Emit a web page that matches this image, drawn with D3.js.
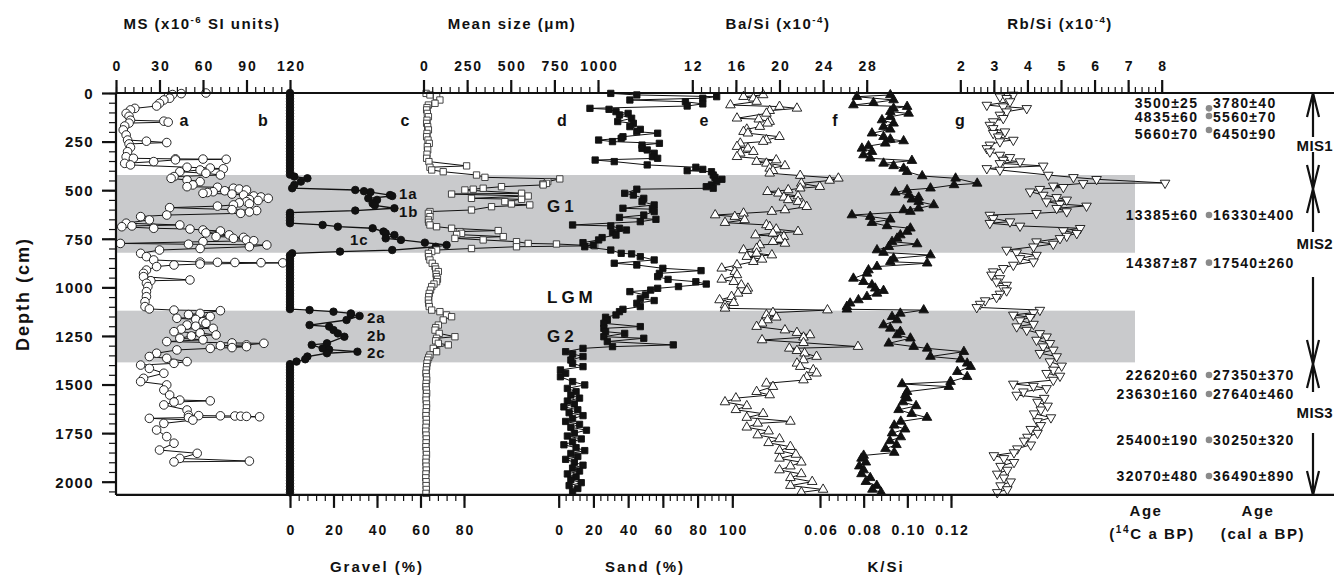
<!DOCTYPE html>
<html><head><meta charset="utf-8">
<script src="https://cdn.jsdelivr.net/npm/d3@7"></script>
<style>
body{margin:0;background:#fff}
svg{display:block;font-family:"Liberation Sans",Arial,sans-serif;font-weight:bold}
</style></head><body>
<svg id="c" width="1334" height="575"></svg>
<script>
// ---------------- DATA ([depth cm, value]) ----------------
const msData = [[0,62],[3,45],[8,39],[18,36],[27,37],[36,33],[53,30],[67,28],[79,13],[87,10],[105,7],[120,9],[140,10],[145,33],[150,36],[155,9],[170,6],[190,5],[216,7],[242,8],[248,21],[255,35],[262,9],[280,10],[302,8],[328,7],[336,12],[339,41],[340,60],[341,76],[344,41],[353,26],[362,6],[370,10],[382,49],[386,65],[390,74],[396,58],[405,44],[413,62],[422,72],[430,40],[439,38],[448,49],[456,58],[473,53],[482,49],[485,70],[490,81],[494,85],[499,90],[503,75],[508,67],[512,63],[516,60],[520,80],[525,88],[530,95],[535,100],[542,105],[548,92],[553,98],[559,90],[565,85],[570,92],[576,81],[582,70],[590,37],[600,80],[605,97],[612,92],[619,86],[628,35],[636,17],[653,23],[670,7],[679,44],[684,11],[688,4],[696,26],[700,51],[705,60],[710,72],[720,62],[730,78],[739,69],[743,88],[748,81],[756,90],[760,95],[765,60],[774,3],[778,50],[782,104],[791,92],[800,58],[808,30],[825,17],[842,21],[859,26],[870,58],[871,70],[872,82],[873,100],[874,115],[880,58],[885,40],[893,28],[911,21],[928,19],[945,19],[962,51],[966,24],[979,21],[996,22],[1022,21],[1048,21],[1074,20],[1099,20],[1111,23],[1117,40],[1120,72],[1134,58],[1140,50],[1150,65],[1159,42],[1165,55],[1177,60],[1185,62],[1194,49],[1200,55],[1211,67],[1215,45],[1228,40],[1235,58],[1245,69],[1250,52],[1262,44],[1270,60],[1279,35],[1286,80],[1288,102],[1296,90],[1300,72],[1305,90],[1310,80],[1314,65],[1322,42],[1339,28],[1356,23],[1365,35],[1382,49],[1391,40],[1400,17],[1417,23],[1442,33],[1468,19],[1485,17],[1502,35],[1528,33],[1554,37],[1580,44],[1584,65],[1590,40],[1605,33],[1631,49],[1658,50],[1660,57],[1661,72],[1662,82],[1663,86],[1664,90],[1666,99],[1670,50],[1674,23],[1683,53],[1700,33],[1734,28],[1768,35],[1802,40],[1837,30],[1854,56],[1880,44],[1894,92],[1898,40]];

const gravelData = [[0,0],[15,0],[30,0],[45,0],[60,0],[75,0],[90,0],[105,0],[120,0],[135,0],[150,0],[165,0],[180,0],[195,0],[210,0],[225,0],[240,0],[255,0],[270,0],[285,0],[300,0],[315,0],[330,0],[345,0],[360,0],[375,0],[390,0],[405,0],[420,0],[430,2],[439,8],[456,5],[473,2],[490,1],[499,30],[505,34],[510,37],[525,46],[530,47],[542,36],[550,40],[568,38],[578,39],[593,48],[605,30],[616,0],[625,0],[640,0],[655,0],[670,0],[679,15],[688,22],[696,38],[713,43],[722,44],[731,48],[748,44],[756,51],[770,62],[782,72],[791,67],[808,47],[816,23],[825,1],[835,0],[850,0],[865,0],[880,0],[895,0],[910,0],[925,0],[940,0],[955,0],[970,0],[985,0],[1000,0],[1015,0],[1030,0],[1045,0],[1060,0],[1075,0],[1090,0],[1105,0],[1112,0],[1117,9],[1125,20],[1134,28],[1140,28],[1147,32],[1168,26],[1194,9],[1202,18],[1220,20],[1237,22],[1254,25],[1288,17],[1296,10],[1314,15],[1320,18],[1331,31],[1339,17],[1356,8],[1370,7],[1382,3],[1395,0],[1410,0],[1425,0],[1440,0],[1455,0],[1470,0],[1485,0],[1500,0],[1515,0],[1530,0],[1545,0],[1560,0],[1575,0],[1590,0],[1605,0],[1620,0],[1635,0],[1650,0],[1665,0],[1680,0],[1695,0],[1710,0],[1725,0],[1740,0],[1755,0],[1770,0],[1785,0],[1800,0],[1815,0],[1830,0],[1845,0],[1860,0],[1875,0],[1890,0],[1905,0],[1920,0],[1935,0],[1950,0],[1965,0],[1980,0],[1995,0],[2010,0],[2025,0],[2040,0],[2055,0]];

const meanSizeData = [[2,15],[10,37],[19,75],[36,94],[53,66],[62,28],[75,20],[87,18],[105,22],[122,28],[140,20],[156,18],[173,24],[190,28],[208,20],[225,18],[242,26],[259,33],[276,22],[293,24],[315,20],[336,18],[353,31],[375,247],[382,37],[396,47],[405,113],[422,304],[434,352],[442,781],[456,712],[465,705],[468,684],[473,686],[482,447],[490,342],[495,285],[499,237],[516,562],[520,161],[530,600],[542,275],[547,562],[559,466],[571,504],[576,609],[585,390],[602,275],[610,37],[619,28],[636,37],[653,28],[665,30],[679,37],[688,75],[696,161],[708,428],[713,209],[722,218],[728,190],[739,457],[748,180],[756,342],[765,533],[774,600],[777,762],[786,981],[791,533],[800,275],[808,75],[816,47],[825,28],[842,30],[859,37],[876,50],[893,66],[906,70],[919,85],[932,72],[945,75],[958,80],[971,75],[983,60],[996,47],[1014,40],[1031,33],[1048,30],[1065,28],[1082,30],[1099,33],[1117,47],[1125,94],[1142,132],[1151,161],[1168,113],[1194,85],[1207,70],[1220,66],[1237,90],[1254,180],[1262,75],[1275,70],[1288,85],[1296,142],[1314,56],[1331,75],[1348,37],[1360,30],[1374,24],[1390,20],[1408,18],[1425,16],[1442,14],[1460,17],[1477,18],[1494,15],[1511,14],[1528,16],[1545,18],[1562,15],[1580,15],[1600,17],[1620,17],[1640,15],[1660,14],[1680,16],[1700,16],[1720,14],[1740,13],[1760,15],[1780,16],[1800,15],[1820,14],[1840,16],[1860,17],[1880,15],[1900,14],[1920,15],[1940,16],[1960,14],[1980,13],[2000,15],[2020,15],[2040,16],[2060,14]];

const sandData = [[2,30],[10,45],[19,91],[27,83],[36,41],[45,73],[56,83],[67,74],[79,18],[84,29],[96,33],[105,40],[113,35],[130,42],[147,34],[156,43],[173,41],[187,47],[199,45],[207,57],[225,37],[233,36],[242,23],[250,31],[259,58],[268,48],[285,48],[293,51],[310,55],[328,54],[336,57],[345,21],[353,32],[370,51],[382,79],[393,83],[400,74],[405,88],[422,89],[434,90],[444,94],[456,91],[473,88],[482,85],[490,89],[495,45],[516,38],[525,43],[542,49],[559,48],[576,55],[593,37],[598,54],[610,55],[628,49],[640,35],[650,56],[662,47],[679,8],[684,30],[696,35],[705,39],[718,31],[731,33],[744,25],[756,23],[770,14],[782,20],[791,15],[808,30],[825,36],[828,42],[842,47],[859,55],[876,32],[885,45],[902,60],[914,82],[928,58],[945,57],[959,63],[971,79],[983,85],[996,69],[1005,57],[1014,53],[1022,41],[1039,50],[1057,47],[1068,55],[1082,45],[1099,47],[1113,37],[1125,35],[1142,33],[1154,27],[1168,28],[1185,26],[1202,47],[1211,26],[1228,27],[1237,38],[1254,26],[1262,49],[1279,28],[1296,66],[1305,31],[1314,14],[1331,4],[1343,8],[1356,14],[1374,7],[1391,8],[1408,14],[1425,1],[1442,4],[1460,1],[1485,8],[1502,15],[1520,5],[1537,10],[1554,7],[1570,12],[1585,5],[1600,9],[1615,3],[1630,11],[1645,6],[1660,14],[1675,8],[1690,4],[1705,12],[1720,7],[1735,16],[1750,9],[1765,5],[1780,13],[1795,8],[1810,3],[1825,10],[1840,15],[1855,7],[1870,11],[1885,4],[1900,9],[1915,14],[1930,8],[1945,12],[1960,5],[1975,10],[1990,7],[2005,13],[2020,6],[2035,11],[2050,8]];

const baSiData = [[10,18.5],[19,16.7],[27,17.6],[44,17.9],[62,15.5],[70,20.0],[79,21.6],[91,19.1],[105,18.8],[130,16.1],[135,18.1],[147,19.1],[156,18.9],[173,18.2],[187,17.0],[199,16.7],[207,17.1],[225,20.0],[242,18.8],[250,18.5],[259,16.4],[276,16.1],[285,17.1],[302,17.6],[310,16.4],[328,16.1],[345,19.7],[353,17.9],[362,18.8],[375,20.5],[388,19.1],[400,19.4],[413,19.1],[425,21.9],[439,25.4],[450,24.6],[465,22.0],[482,23.7],[490,21.9],[499,20.8],[508,18.9],[516,19.9],[530,21.7],[537,20.4],[550,20.8],[559,21.7],[576,22.2],[585,22.5],[602,20.5],[610,19.3],[619,16.7],[628,14.1],[636,15.9],[653,16.8],[667,15.0],[679,18.8],[688,19.1],[701,19.7],[713,21.7],[722,19.4],[731,17.8],[739,20.4],[753,20.0],[765,19.4],[774,20.5],[782,18.2],[800,17.9],[808,16.7],[825,17.9],[834,19.3],[842,17.0],[856,18.4],[868,17.6],[885,16.1],[902,14.7],[919,15.9],[936,16.1],[959,14.7],[971,15.8],[988,16.5],[1005,17.1],[1017,17.0],[1031,16.2],[1048,15.6],[1065,14.5],[1079,15.8],[1091,15.0],[1108,15.0],[1117,24.4],[1130,19.4],[1142,18.8],[1154,19.7],[1168,18.9],[1185,18.4],[1202,17.9],[1220,20.5],[1233,21.6],[1245,22.8],[1257,22.2],[1271,18.4],[1285,22.2],[1305,27.2],[1314,20.9],[1326,21.6],[1339,22.3],[1356,23.4],[1374,22.2],[1391,21.6],[1408,21.9],[1425,23.1],[1442,23.4],[1460,22.5],[1477,22.2],[1494,18.8],[1511,19.4],[1537,17.9],[1554,19.1],[1570,16.0],[1590,15.0],[1610,17.0],[1630,16.0],[1650,18.5],[1670,17.0],[1690,21.0],[1700,18.0],[1720,17.0],[1740,19.0],[1760,18.0],[1780,20.0],[1800,19.0],[1820,21.0],[1840,20.0],[1860,21.5],[1880,20.0],[1900,22.0],[1920,21.0],[1940,20.0],[1960,22.0],[1980,21.0],[2000,23.0],[2020,21.0],[2040,24.0],[2055,22.0]];

const kSiData = [[10,0.0922],[19,0.0769],[36,0.0937],[50,0.0845],[62,0.0753],[70,0.0999],[79,0.0937],[96,0.0922],[105,0.1006],[122,0.0922],[139,0.0884],[156,0.0937],[173,0.0891],[187,0.0922],[207,0.0838],[225,0.0891],[238,0.0922],[247,0.0983],[259,0.0899],[273,0.0822],[285,0.0792],[302,0.0838],[319,0.0799],[336,0.0830],[348,0.1021],[362,0.0891],[375,0.0937],[388,0.0983],[405,0.0999],[427,0.1068],[439,0.1221],[465,0.1320],[473,0.1214],[490,0.1106],[499,0.0999],[511,0.0945],[525,0.1006],[537,0.1052],[547,0.1021],[559,0.1052],[576,0.1121],[593,0.1052],[602,0.0983],[610,0.1014],[628,0.0746],[636,0.0830],[650,0.0922],[667,0.0838],[684,0.0907],[696,0.1014],[713,0.0999],[731,0.0968],[748,0.0953],[765,0.0930],[777,0.1045],[791,0.0915],[808,0.0861],[821,0.0891],[834,0.1106],[851,0.0937],[868,0.0922],[876,0.1091],[893,0.0861],[911,0.0822],[928,0.0815],[954,0.0753],[971,0.0799],[988,0.0838],[1005,0.0853],[1017,0.0891],[1031,0.0861],[1048,0.0815],[1065,0.0776],[1082,0.0738],[1099,0.0723],[1113,0.0723],[1117,0.1075],[1134,0.0968],[1151,0.0930],[1168,0.0953],[1194,0.0891],[1211,0.0922],[1228,0.0968],[1245,0.0953],[1262,0.1014],[1288,0.0915],[1305,0.1029],[1314,0.1091],[1331,0.1259],[1356,0.1106],[1370,0.1244],[1391,0.1274],[1408,0.1290],[1434,0.1229],[1460,0.1274],[1485,0.1198],[1497,0.0976],[1511,0.1190],[1537,0.0999],[1554,0.0991],[1570,0.1000],[1590,0.0980],[1610,0.1040],[1630,0.0960],[1650,0.1020],[1670,0.1090],[1690,0.0970],[1710,0.0940],[1730,0.0990],[1750,0.0930],[1770,0.0970],[1790,0.0920],[1810,0.0950],[1830,0.0900],[1850,0.0940],[1865,0.0800],[1880,0.0790],[1900,0.0810],[1920,0.0780],[1940,0.0800],[1960,0.0790],[1980,0.0830],[2000,0.0810],[2020,0.0860],[2040,0.0840],[2055,0.0880]];

const rbSiData = [[10,3.58],[19,3.18],[27,3.38],[44,3.48],[62,2.79],[70,3.28],[79,3.98],[96,3.38],[113,3.18],[130,3.28],[147,2.98],[165,2.88],[182,2.98],[199,3.33],[207,2.98],[225,3.13],[242,3.58],[250,3.18],[267,2.88],[285,2.79],[302,2.88],[319,3.18],[331,3.48],[345,3.28],[353,3.78],[362,3.18],[375,4.47],[388,2.79],[396,3.18],[422,4.62],[434,5.37],[444,6.06],[463,8.10],[465,5.66],[478,4.77],[485,5.07],[495,4.37],[508,4.08],[525,4.47],[537,4.87],[550,5.17],[559,4.57],[571,4.97],[581,5.76],[593,4.87],[610,5.17],[619,4.27],[628,2.88],[645,2.98],[662,3.48],[670,2.88],[684,3.78],[696,5.57],[708,5.07],[722,5.47],[736,5.17],[748,4.97],[765,4.27],[777,4.77],[791,4.18],[808,3.38],[821,3.68],[834,4.27],[851,3.78],[868,4.18],[885,3.58],[902,3.28],[919,2.98],[936,2.93],[954,3.18],[971,3.08],[988,3.38],[1005,3.28],[1017,3.38],[1034,3.18],[1051,3.08],[1068,2.74],[1086,2.59],[1103,2.49],[1117,4.37],[1130,4.18],[1142,3.58],[1154,4.08],[1171,3.78],[1189,4.18],[1202,3.68],[1220,3.98],[1237,4.37],[1254,4.57],[1271,4.27],[1288,4.67],[1305,4.47],[1322,4.77],[1339,4.37],[1356,4.87],[1382,4.67],[1404,5.02],[1425,4.77],[1442,4.57],[1456,4.97],[1477,4.77],[1497,3.58],[1508,4.18],[1520,4.57],[1537,3.88],[1554,3.68],[1570,4.50],[1590,4.30],[1610,4.60],[1630,4.40],[1650,4.20],[1670,4.70],[1690,4.30],[1710,4.40],[1730,4.10],[1750,4.30],[1770,4.00],[1790,3.90],[1810,4.10],[1830,3.70],[1850,3.60],[1865,3.00],[1880,3.30],[1900,3.60],[1920,3.20],[1940,3.40],[1960,3.10],[1980,3.30],[2000,3.50],[2020,3.20],[2040,3.40],[2055,3.10]];

// shaded intervals (depth cm)
const bandDepths = [[422,822],[1120,1386]];

// tick labels
const depthTicks = [0,250,500,750,1000,1250,1500,1750,2000];
const msTicks = [0,30,60,90,120];
const meanTicks = [0,250,500,750,1000];
const baTicks = [12,16,20,24,28];
const rbTicks = [2,3,4,5,6,7,8];
const gravelTicks = [0,20,40,60,80];
const sandTicks = [0,20,40,60,80,100];
const kTicks = [0.06,0.08,0.10,0.12];

// ages
const ageLabelDepth = [50,122,211,626,873,1451,1549,1785,1971];
const ageDotDepth   = [79,118,190,628,873,1451,1549,1785,1971];
const c14Ages = ["3500±25","4835±60","5660±70","13385±60","14387±87","22620±60","23630±160","25400±190","32070±480"];
const calAges = ["3780±40","5560±70","6450±90","16330±400","17540±260","27350±370","27640±460","30250±320","36490±890"];

// marine isotope stages
const misNames = ["MIS1","MIS2","MIS3"];
const misBounds = [0,494,1394,2068];
const misLabelDepth = [268,772,1640];

// ---------------- CHART ----------------
const svg = d3.select("#c");
const y = d3.scaleLinear().domain([0,2000]).range([93,481.7]);
const DMAX = 2068;
const xMS = d3.scaleLinear().domain([0,120]).range([116,290]);
const xGravel = d3.scaleLinear().domain([0,80]).range([290,464]);
const xMean = d3.scaleLinear().domain([0,1000]).range([423.5,598]);
const xSand = d3.scaleLinear().domain([0,100]).range([558.7,732.3]);
const xBa = d3.scaleLinear().domain([12,28]).range([692.3,866.7]);
const xK = d3.scaleLinear().domain([0.06,0.12]).range([820,951]);
const xRb = d3.scaleLinear().domain([2,8]).range([960.3,1161.7]);

const yTop = y(0), yBot = y(DMAX);

// gray bands
svg.append("g").selectAll("rect").data(bandDepths).join("rect")
  .attr("x",116).attr("width",1135-116)
  .attr("y",d=>y(d[0])).attr("height",d=>y(d[1])-y(d[0]))
  .attr("fill","#c9cacc");

// series
function series(data, xs, sym, size, fill, stroke, rot, lw){
  const g = svg.append("g");
  g.append("path").datum(data).attr("fill","none").attr("stroke","#111").attr("stroke-width",lw||1)
    .attr("d", d3.line().x(d=>xs(d[1])).y(d=>y(d[0])));
  g.selectAll("path.m").data(data).join("path").attr("class","m")
    .attr("transform", d=>`translate(${xs(d[1])},${y(d[0])})${rot?" rotate(180)":""}`)
    .attr("d", d3.symbol(sym,size)).attr("fill",fill).attr("stroke",stroke).attr("stroke-width",0.9);
}
series(msData, xMS, d3.symbolCircle, 58, "#fff", "#111");
series(gravelData, xGravel, d3.symbolCircle, 44, "#111", "#111", false, 1.3);
series(meanSizeData, xMean, d3.symbolSquare, 40, "#fff", "#333");
series(sandData, xSand, d3.symbolSquare, 40, "#111", "#111");
series(baSiData, xBa, d3.symbolTriangle, 40, "#fff", "#111");
series(kSiData, xK, d3.symbolTriangle, 40, "#111", "#111");
series(rbSiData, xRb, d3.symbolTriangle, 40, "#fff", "#111", true);

// frame lines
const frame = svg.append("g").attr("stroke","#111").attr("stroke-width",2.2);
frame.append("line").attr("x1",116).attr("x2",1334).attr("y1",yTop).attr("y2",yTop);
frame.append("line").attr("x1",116).attr("x2",1334).attr("y1",yBot).attr("y2",yBot);
frame.append("line").attr("x1",116).attr("x2",116).attr("y1",yTop).attr("y2",yBot);

const LS = 1.8;
function styleAxis(g, major){
  g.select(".domain").remove();
  g.selectAll(".tick line").attr("stroke","#111").attr("stroke-width", major?2.2:1.2);
  g.selectAll("text").attr("font-size",14).attr("font-weight","bold").attr("fill","#111")
    .attr("font-family","'Liberation Sans',Arial,sans-serif").style("letter-spacing",LS+"px");
}
function topAxis(scale, majors, step){
  const minors = d3.range(scale.domain()[0], scale.domain()[1]+step/2, step);
  const gm = svg.append("g").attr("transform",`translate(0,${yTop})`)
    .call(d3.axisTop(scale).tickValues(minors).tickSize(6).tickFormat(""));
  styleAxis(gm,false);
  const g = svg.append("g").attr("transform",`translate(0,${yTop})`)
    .call(d3.axisTop(scale).tickValues(majors).tickSize(13).tickFormat(d=>d));
  styleAxis(g,true);
  g.selectAll("text").attr("y",-22).attr("dy",0).attr("dx",LS/2);
}
function bottomAxis(scale, majors, step, fmt){
  const minors = d3.range(scale.domain()[0], scale.domain()[1]+step/2, step);
  const gm = svg.append("g").attr("transform",`translate(0,${yBot})`)
    .call(d3.axisBottom(scale).tickValues(minors).tickSize(6).tickFormat(""));
  styleAxis(gm,false);
  const g = svg.append("g").attr("transform",`translate(0,${yBot})`)
    .call(d3.axisBottom(scale).tickValues(majors).tickSize(13).tickFormat(fmt||(d=>d)));
  styleAxis(g,true);
  g.selectAll("text").attr("y",40).attr("dy",0).attr("dx",LS/2);
}
topAxis(xMS, msTicks, 6);
topAxis(xMean, meanTicks, 50);
topAxis(xBa, baTicks, 0.8);
topAxis(xRb, rbTicks, 0.2);
bottomAxis(xGravel, gravelTicks, 4);
bottomAxis(xSand, sandTicks, 4);
bottomAxis(xK, kTicks, 0.004, d3.format(".2f"));

// left depth axis
{
  const gm = svg.append("g").attr("transform","translate(116,0)")
    .call(d3.axisLeft(y).tickValues(d3.range(0,2051,50)).tickSize(7).tickFormat(""));
  styleAxis(gm,false);
  const g = svg.append("g").attr("transform","translate(116,0)")
    .call(d3.axisLeft(y).tickValues(depthTicks).tickSize(14).tickFormat(d=>d));
  styleAxis(g,true);
  g.selectAll("text").attr("x",-24+LS).attr("dy","0.36em").attr("font-size",15).style("letter-spacing","1.3px");
}

// text helper
function txt(x, yy, s, size, anchor, ls){
  return svg.append("text").attr("x",x).attr("y",yy).attr("font-size",size)
    .attr("text-anchor",anchor||"middle").attr("fill","#111").style("letter-spacing",(ls||0)+"px").text(s);
}
function supTitle(x, yy, pre, sup, post, size, ls){
  const t = svg.append("text").attr("x",x).attr("y",yy).attr("font-size",size)
    .attr("text-anchor","middle").attr("fill","#111").style("letter-spacing",ls+"px");
  t.append("tspan").text(pre);
  t.append("tspan").attr("dy",-6).attr("font-size",size*0.65).text(sup);
  t.append("tspan").attr("dy",6).text(post);
  return t;
}
// titles
supTitle(202, 29, "MS (x10", "-6", " SI units)", 15, 1.5);
txt(512, 29, "Mean size (μm)", 15, "middle", 1.5);
supTitle(778, 29, "Ba/Si (x10", "-4", ")", 15, 1.5);
supTitle(1060, 29, "Rb/Si (x10", "-4", ")", 15, 1.5);
txt(377, 572, "Gravel (%)", 15, "middle", 2);
txt(645, 572, "Sand (%)", 15, "middle", 2);
txt(886, 572, "K/Si", 15, "middle", 2);
svg.append("text").attr("transform","translate(29,294) rotate(-90)").attr("text-anchor","middle")
  .attr("font-size",18).attr("fill","#111").style("letter-spacing","2px").text("Depth (cm)");

// panel letters
[["a",184],["b",263],["c",405],["d",562],["e",704],["f",835],["g",960]].forEach(p=>txt(p[1],126,p[0],16));
[["1a",399,199],["1b",399,217],["1c",350,245],["2a",367,323],["2b",367,341],["2c",367,358]]
  .forEach(p=>txt(p[1],p[2],p[0],15,"start",1));
txt(547,212,"G1",17,"start",4);
txt(547,303,"LGM",17,"start",4);
txt(547,342,"G2",17,"start",4);

// ages
ageLabelDepth.forEach((d,i)=>{
  txt(1197+1.3, y(d)+5, c14Ages[i], 14, "end", 1.3);
  txt(1213, y(d)+5, calAges[i], 14, "start", 1.3);
});
svg.append("g").selectAll("circle").data(ageDotDepth).join("circle")
  .attr("cx",1209).attr("cy",d=>y(d)).attr("r",3.3).attr("fill","#8a8a8a");
txt(1146, 516, "Age", 15, "middle", 1.5);
{
  const t = svg.append("text").attr("x",1152).attr("y",539).attr("font-size",15)
    .attr("text-anchor","middle").attr("fill","#111").style("letter-spacing","1.6px");
  t.append("tspan").text("(");
  t.append("tspan").attr("dy",-6).attr("font-size",10).text("14");
  t.append("tspan").attr("dy",6).text("C a BP)");
}
txt(1258, 516, "Age", 15, "middle", 1.5);
txt(1263, 539, "(cal a BP)", 15, "middle", 1.6);

// MIS arrows
const ax = 1313;
const arr = svg.append("g").attr("stroke","#111").attr("stroke-width",2.2).attr("fill","none");
const gaps = [[137,152],[232,277],[392,433]];
misNames.forEach((m,i)=>{
  const t0 = y(misBounds[i]), t1 = y(misBounds[i+1]);
  const g0 = gaps[i][0], g1 = gaps[i][1];
  arr.append("line").attr("x1",ax).attr("x2",ax).attr("y1",t0).attr("y2",g0);
  arr.append("line").attr("x1",ax).attr("x2",ax).attr("y1",g1).attr("y2",t1);
  arr.append("path").attr("d",`M${ax-6},${t0+24}L${ax},${t0}L${ax+6},${t0+24}`);
  arr.append("path").attr("d",`M${ax-6},${t1-24}L${ax},${t1}L${ax+6},${t1-24}`);
  txt(1296.5, y(misLabelDepth[i])+6, m, 15, "start", 0.4);
});
</script>
</body></html>
